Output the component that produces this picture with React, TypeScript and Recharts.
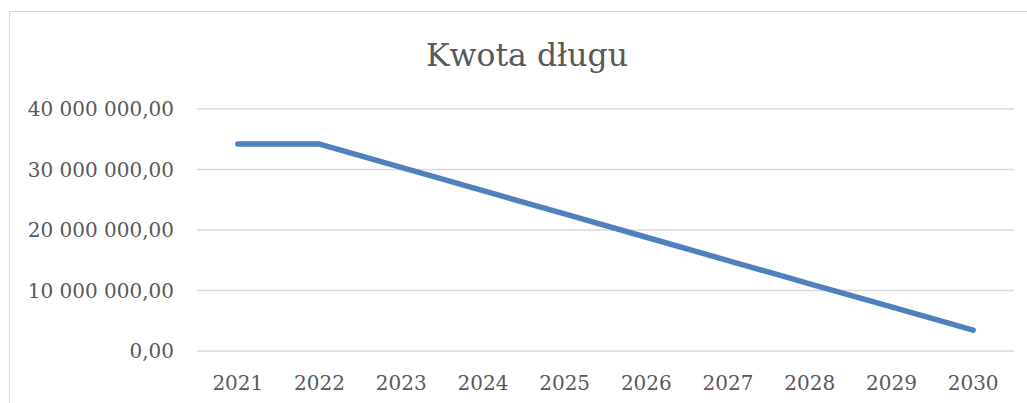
import React from 'react';
import { LineChart, Line, XAxis, YAxis, CartesianGrid } from 'recharts';

// lata i kwota długu
const lata = ['2021', '2022', '2023', '2024', '2025', '2026', '2027', '2028', '2029', '2030'];
const kwotaDlugu = [
  34200000, 34200000, 30350000, 26500000, 22650000,
  18800000, 14950000, 11100000, 7300000, 3450000,
];
const yTicks = [0, 10000000, 20000000, 30000000, 40000000];

const chartData = lata.map((rok, i) => ({ rok, kwota: kwotaDlugu[i] }));

const fontFamily = '"DejaVu Serif", serif';
const textColor = '#595959';
const gridColor = '#d9d9d9';

// format polski: 40 000 000,00
const formatPL = (v: number) => {
  const [int, dec] = v.toFixed(2).split('.');
  return int.replace(/\B(?=(\d{3})+(?!\d))/g, ' ') + ',' + dec;
};

const App: React.FC = () => {
  return (
    <div style={{ position: 'absolute', left: 0, top: 0, width: 1027, height: 403, overflow: 'hidden', background: '#fff' }}>
      {/* ramka wykresu */}
      <div
        style={{
          position: 'absolute',
          left: 8.5,
          top: 11,
          width: 1060,
          height: 420,
          border: `1.5px solid ${gridColor}`,
          boxSizing: 'border-box',
        }}
      />
      <div
        style={{
          position: 'absolute',
          left: 0,
          top: 40,
          width: 1054,
          textAlign: 'center',
          fontFamily,
          fontSize: 31.5,
          lineHeight: 1,
          color: textColor,
        }}
      >
        Kwota długu
      </div>
      <div style={{ position: 'absolute', left: 0, top: 0 }}>
        <LineChart
          width={1027}
          height={403}
          data={chartData}
          margin={{ top: 109, right: 13, bottom: 0, left: 0 }}
        >
          <CartesianGrid vertical={false} stroke={gridColor} strokeWidth={1.5} />
          <XAxis
            dataKey="rok"
            height={52}
            axisLine={false}
            tickLine={false}
            tickSize={0}
            tickMargin={25}
            padding={{ left: 40.85, right: 40.85 }}
            interval={0}
            tick={{ fill: textColor, fontFamily, fontSize: 20 }}
          />
          <YAxis
            width={197}
            domain={[0, 40000000]}
            ticks={yTicks}
            axisLine={false}
            tickLine={false}
            tickSize={0}
            tickMargin={23}
            tickFormatter={formatPL}
            tick={{ fill: textColor, fontFamily, fontSize: 20 }}
          />
          <Line
            type="linear"
            dataKey="kwota"
            stroke="#4F81BD"
            strokeWidth={5.5}
            strokeLinecap="round"
            strokeLinejoin="round"
            dot={false}
            activeDot={false}
            isAnimationActive={false}
          />
        </LineChart>
      </div>
    </div>
  );
};

export default App;
